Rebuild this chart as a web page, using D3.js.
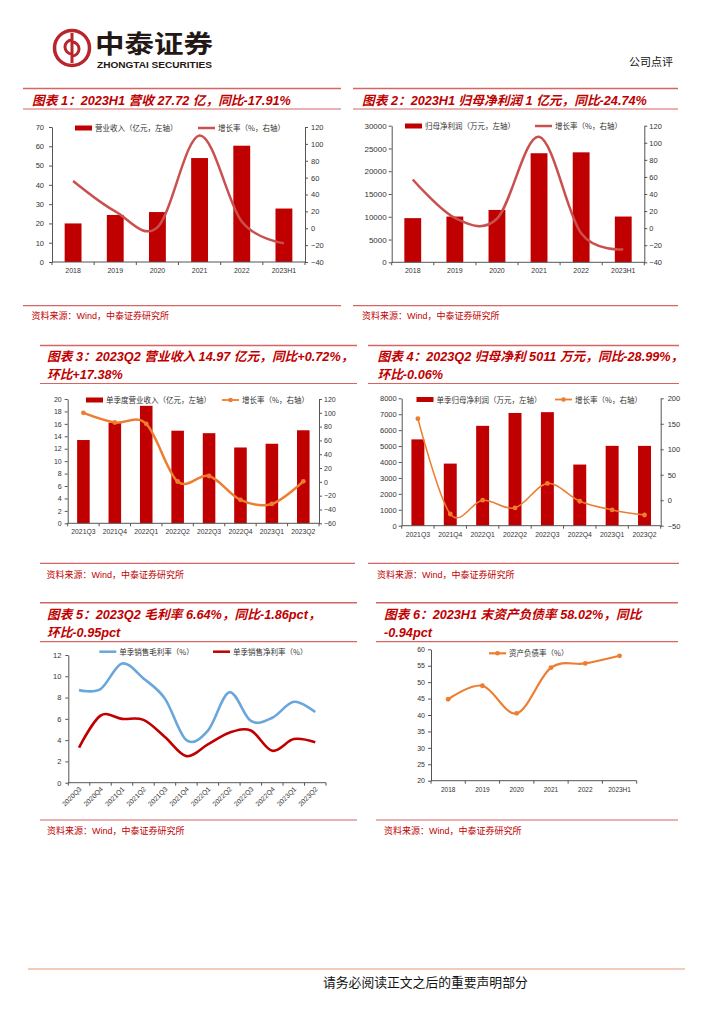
<!DOCTYPE html>
<html><head><meta charset="utf-8">
<script src="https://cdn.jsdelivr.net/npm/d3@7"></script>
<style>body{margin:0;background:#fff}svg{display:block}</style>
</head><body>
<script>
// ---------------- DATA ----------------
const c1Cats = ["2018","2019","2020","2021","2022","2023H1"];
const c1Revenue = [20.0, 24.4, 25.9, 53.9, 60.3, 27.72];
const c1Growth = [56, 20, 1, 110, 8, -17.91];
const c1LeftTicks = [0,10,20,30,40,50,60,70];
const c1RightTicks = [-40,-20,0,20,40,60,80,100,120];
const c1Legend = ["营业收入（亿元，左轴）","增长率（%，右轴）"];

const c2Cats = ["2018","2019","2020","2021","2022","2023H1"];
const c2Profit = [9700, 10050, 11500, 23950, 24150, 10050];
const c2Growth = [57, 12, 11, 107, -6, -24.74];
const c2LeftTicks = [0,5000,10000,15000,20000,25000,30000];
const c2RightTicks = [-40,-20,0,20,40,60,80,100,120];
const c2Legend = ["归母净利润（万元，左轴）","增长率（%，右轴）"];

const c3Cats = ["2021Q3","2021Q4","2022Q1","2022Q2","2022Q3","2022Q4","2023Q1","2023Q2"];
const c3Revenue = [13.4, 16.2, 18.9, 14.9, 14.5, 12.2, 12.8, 14.97];
const c3Growth = [100, 86, 84, 0.5, 8.5, -26, -32, 0.72];
const c3LeftTicks = [0,2,4,6,8,10,12,14,16,18,20];
const c3RightTicks = [-60,-40,-20,0,20,40,60,80,100,120];
const c3Legend = ["单季度营业收入（亿元，左轴）","增长率（%，右轴）"];

const c4Cats = ["2021Q3","2021Q4","2022Q1","2022Q2","2022Q3","2022Q4","2023Q1","2023Q2"];
const c4Profit = [5420, 3900, 6270, 7080, 7130, 3840, 5014, 5011];
const c4Growth = [160, -27, 0, -15, 33, -2, -19, -28.99];
const c4LeftTicks = [0,1000,2000,3000,4000,5000,6000,7000,8000];
const c4RightTicks = [-50,0,50,100,150,200];
const c4Legend = ["单季归母净利润（万元，左轴）","增长率（%，右轴）"];

const c5Cats = ["2020Q3","2020Q4","2021Q1","2021Q2","2021Q3","2021Q4","2022Q1","2022Q2","2022Q3","2022Q4","2023Q1","2023Q2"];
const c5Gross = [8.7, 8.8, 11.2, 9.8, 7.9, 4.0, 4.9, 8.5, 5.8, 6.1, 7.6, 6.64];
const c5Net = [3.3, 6.3, 6.0, 5.9, 4.3, 2.5, 3.6, 4.7, 4.9, 3.0, 4.1, 3.8];
const c5Ticks = [0,2,4,6,8,10,12];
const c5Legend = ["单季销售毛利率（%）","单季销售净利率（%）"];

const c6Cats = ["2018","2019","2020","2021","2022","2023H1"];
const c6Debt = [44.8, 48.9, 40.5, 54.4, 55.7, 58.02];
const c6Ticks = [20,25,30,35,40,45,50,55,60];
const c6Legend = ["资产负债率（%）"];

const titles = [
  ["图表 1：2023H1 营收 27.72 亿，同比-17.91%"],
  ["图表 2：2023H1 归母净利润 1 亿元，同比-24.74%"],
  ["图表 3：2023Q2 营业收入 14.97 亿元，同比+0.72%，","环比+17.38%"],
  ["图表 4：2023Q2 归母净利 5011 万元，同比-28.99%，","环比-0.06%"],
  ["图表 5：2023Q2 毛利率 6.64%，同比-1.86pct，","环比-0.95pct"],
  ["图表 6：2023H1 末资产负债率 58.02%，同比","-0.94pct"]
];
const sourceText = "资料来源：Wind，中泰证券研究所";

// ---------------- SETUP ----------------
const W=724,H=1024;
const svg=d3.select("body").append("svg").attr("width",W).attr("height",H);
svg.append("rect").attr("width",W).attr("height",H).attr("fill","#fff");
const RED="#c00000", LINEC="#c9504d", ORANGE="#ed7d31", BLUE="#6aa6dc", RULE="#d86464";
const FONT="'Liberation Sans','Noto Sans CJK SC',sans-serif";
const CJK="'Noto Sans CJK SC','Liberation Sans',sans-serif";

// ---------------- HEADER ----------------
const logo=svg.append("g");
logo.append("circle").attr("cx",72).attr("cy",48).attr("r",17.5).attr("fill","none").attr("stroke","#b8262b").attr("stroke-width",3.5);
logo.append("path").attr("d","M72,33 L72,63").attr("stroke","#b8262b").attr("stroke-width",3).attr("fill","none");
logo.append("path").attr("d","M72,40 A7,7 0 1,0 72,54").attr("stroke","#b8262b").attr("stroke-width",3).attr("fill","none");
logo.append("path").attr("d","M72,42 A7,7 0 1,1 72,56").attr("stroke","#b8262b").attr("stroke-width",3).attr("fill","none");
svg.append("text").attr("x",95).attr("y",53).attr("font-family",CJK).attr("font-weight","bold").attr("font-size",25).attr("fill","#231815").attr("textLength",118).attr("lengthAdjust","spacingAndGlyphs").text("中泰证券");
svg.append("text").attr("x",97).attr("y",67.5).attr("font-family","'Liberation Sans',sans-serif").attr("font-weight","bold").attr("font-size",8.2).attr("fill","#231815").attr("textLength",115).attr("lengthAdjust","spacingAndGlyphs").text("ZHONGTAI SECURITIES");
svg.append("text").attr("x",629).attr("y",66).attr("font-family",CJK).attr("font-size",11).attr("fill","#111").text("公司点评");

// ---------------- PANELS ----------------
function panel(x0,x1,topY,botY,lines,tx,tys){
  svg.append("line").attr("x1",x0).attr("x2",x1).attr("y1",topY).attr("y2",topY).attr("stroke",RULE).attr("stroke-width",1.6);
  svg.append("line").attr("x1",x0).attr("x2",x1).attr("y1",botY).attr("y2",botY).attr("stroke",RULE).attr("stroke-width",1.2);
  lines.forEach((t,i)=>{
    svg.append("text").attr("x",tx).attr("y",tys[i]).attr("font-family",FONT).attr("font-weight","bold").attr("font-style","italic").attr("font-size",12.7).attr("fill",RED).text(t);
  });
}
function source(x0,x1,ly,tx,ty){
  svg.append("line").attr("x1",x0).attr("x2",x1).attr("y1",ly).attr("y2",ly).attr("stroke",RULE).attr("stroke-width",1.2);
  svg.append("text").attr("x",tx).attr("y",ty).attr("font-family",FONT).attr("font-size",9).attr("fill",RED).text(sourceText);
}
panel(23,341,88.5,109,titles[0],32,[104.5]);
panel(353,678,88.5,109,titles[1],362,[104.5]);
panel(40,357,345.5,383.5,titles[2],47,[361,379]);
panel(368,679,345.5,383.5,titles[3],377.5,[361,379]);
panel(40,357,602.7,641.7,titles[4],47,[618.5,637]);
panel(376,678,602.7,641.7,titles[5],384,[618.5,637]);
source(23,341,305.7,31.5,319);
source(353,678,305.7,362,319);
source(40,355,563.3,46.5,577.5);
source(368,679,563.3,377,577.5);
source(40,357,820,47,833.5);
source(376,678,820,384,833.5);

// ---------------- AXIS HELPERS ----------------
function styleAxis(g,fs){
  g.select(".domain").attr("stroke","#555").attr("stroke-width",1);
  g.selectAll(".tick line").attr("stroke","#555");
  g.selectAll(".tick text").attr("font-family",FONT).attr("font-size",fs).attr("fill","#333");
}
function xAxis(g,x,cats,l,r,b,fs,rotate){
  g.append("line").attr("x1",l).attr("x2",r).attr("y1",b).attr("y2",b).attr("stroke","#555");
  const bounds=cats.map(c=>x(c)).concat([x(cats[cats.length-1])+x.bandwidth()]);
  g.selectAll(null).data(bounds).join("line").attr("x1",d=>d).attr("x2",d=>d).attr("y1",b).attr("y2",b+3).attr("stroke","#555");
  if(rotate){
    g.selectAll(null).data(cats).join("text")
      .attr("transform",d=>`translate(${x(d)+x.bandwidth()/2+3},${b+7}) rotate(-45)`)
      .attr("text-anchor","end").attr("font-family",FONT).attr("font-size",fs).attr("fill","#333").text(d=>d);
  } else {
    g.selectAll(null).data(cats).join("text").attr("x",d=>x(d)+x.bandwidth()/2).attr("y",b+11)
      .attr("text-anchor","middle").attr("font-family",FONT).attr("font-size",fs).attr("fill","#333").text(d=>d);
  }
}
function legendBar(g,x,y,label){
  g.append("rect").attr("x",x).attr("y",y-2.5).attr("width",17).attr("height",5).attr("fill",RED);
  g.append("text").attr("x",x+20).attr("y",y+3).attr("font-family",CJK).attr("font-size",7.5).attr("fill","#333").text(label);
}
function legendLine(g,x,y,label,color,lw,marker){
  g.append("line").attr("x1",x).attr("x2",x+17).attr("y1",y).attr("y2",y).attr("stroke",color).attr("stroke-width",lw);
  if(marker) g.append("circle").attr("cx",x+8.5).attr("cy",y).attr("r",2.3).attr("fill",color);
  g.append("text").attr("x",x+20).attr("y",y+3).attr("font-family",CJK).attr("font-size",7.5).attr("fill","#333").text(label);
}
const fmt=d3.format("d");

// ---------------- DUAL AXIS BAR+LINE ----------------
function dual(cfg){
  const g=svg.append("g");
  const x=d3.scaleBand().domain(cfg.cats).range([cfg.l,cfg.r]);
  const yL=d3.scaleLinear().domain(cfg.lDom).range([cfg.b,cfg.t]);
  const yR=d3.scaleLinear().domain(cfg.rDom).range([cfg.b,cfg.t]);
  const bw=x.bandwidth()*cfg.bw;
  g.selectAll(null).data(cfg.bars).join("rect")
    .attr("x",(d,i)=>x(cfg.cats[i])+(x.bandwidth()-bw)/2).attr("width",bw)
    .attr("y",d=>yL(d)).attr("height",d=>yL(0)-yL(d)).attr("fill",RED);
  g.append("g").attr("transform",`translate(${cfg.l},0)`)
    .call(d3.axisLeft(yL).tickValues(cfg.lTicks).tickFormat(fmt).tickSize(3).tickPadding(cfg.lPad).tickSizeOuter(0))
    .call(a=>styleAxis(a,cfg.lfs));
  g.append("g").attr("transform",`translate(${cfg.r},0)`)
    .call(d3.axisRight(yR).tickValues(cfg.rTicks).tickFormat(fmt).tickSize(3).tickPadding(cfg.rPad).tickSizeOuter(0))
    .call(a=>styleAxis(a,cfg.rfs));
  xAxis(g,x,cfg.cats,cfg.l,cfg.r,cfg.b,cfg.xfs,false);
  const line=d3.line().x((d,i)=>x(cfg.cats[i])+x.bandwidth()/2).y(d=>yR(d)).curve(d3.curveCardinal.tension(0));
  g.append("path").datum(cfg.line).attr("d",line).attr("fill","none").attr("stroke",cfg.lc).attr("stroke-width",cfg.lw);
  if(cfg.markers){
    g.selectAll(null).data(cfg.line).join("circle")
      .attr("cx",(d,i)=>x(cfg.cats[i])+x.bandwidth()/2).attr("cy",d=>yR(d)).attr("r",2.4).attr("fill",cfg.lc);
  }
  legendBar(g,cfg.leg[0],cfg.leg[2],cfg.legend[0]);
  legendLine(g,cfg.leg[1],cfg.leg[2],cfg.legend[1],cfg.lc,cfg.markers?1.8:2.5,cfg.markers);
}

dual({cats:c1Cats,bars:c1Revenue,line:c1Growth,l:52,r:305,t:127,b:262,lDom:[0,70],rDom:[-40,120],
  lTicks:c1LeftTicks,rTicks:c1RightTicks,bw:0.4,lc:LINEC,lw:2.5,markers:false,lPad:5,rPad:3,lfs:7.5,rfs:7.5,xfs:7,
  leg:[75,198,128],legend:c1Legend});
dual({cats:c2Cats,bars:c2Profit,line:c2Growth,l:391.7,r:644.3,t:125.7,b:262.3,lDom:[0,30000],rDom:[-40,120],
  lTicks:c2LeftTicks,rTicks:c2RightTicks,bw:0.4,lc:LINEC,lw:2.5,markers:false,lPad:2,rPad:2,lfs:8,rfs:7.5,xfs:7,
  leg:[405,535,126],legend:c2Legend});
dual({cats:c3Cats,bars:c3Revenue,line:c3Growth,l:67.7,r:319,t:399,b:523.3,lDom:[0,20],rDom:[-60,120],
  lTicks:c3LeftTicks,rTicks:c3RightTicks,bw:0.4,lc:ORANGE,lw:2.5,markers:true,lPad:3,rPad:2,lfs:7,rfs:7,xfs:6.8,
  leg:[86,222,400],legend:c3Legend});
dual({cats:c4Cats,bars:c4Profit,line:c4Growth,l:401.7,r:660.7,t:398.3,b:525.7,lDom:[0,8000],rDom:[-50,200],
  lTicks:c4LeftTicks,rTicks:c4RightTicks,bw:0.4,lc:ORANGE,lw:1.5,markers:true,lPad:2,rPad:4,lfs:7.5,rfs:7.5,xfs:6.8,
  leg:[416.5,555,399.5],legend:c4Legend});

// ---------------- CHART 5 ----------------
(function(){
  const g=svg.append("g");
  const l=68.3,r=326,t=655,b=782.7;
  const x=d3.scaleBand().domain(c5Cats).range([l,r]);
  const y=d3.scaleLinear().domain([0,12]).range([b,t]);
  g.append("g").attr("transform",`translate(${l},0)`)
    .call(d3.axisLeft(y).tickValues(c5Ticks).tickSize(3).tickPadding(4).tickSizeOuter(0))
    .call(a=>styleAxis(a,7.5));
  xAxis(g,x,c5Cats,l,r,b,6.8,true);
  const line=d3.line().x((d,i)=>x(c5Cats[i])+x.bandwidth()/2).y(d=>y(d)).curve(d3.curveCardinal.tension(0));
  g.append("path").datum(c5Gross).attr("d",line).attr("fill","none").attr("stroke",BLUE).attr("stroke-width",2.6);
  g.append("path").datum(c5Net).attr("d",line).attr("fill","none").attr("stroke",RED).attr("stroke-width",2.6);
  legendLine(g,99.3,651.7,c5Legend[0],BLUE,2.5,false);
  legendLine(g,213,651.7,c5Legend[1],RED,2.5,false);
})();

// ---------------- CHART 6 ----------------
(function(){
  const g=svg.append("g");
  const l=431,r=636.7,t=649.3,b=780.7;
  const x=d3.scaleBand().domain(c6Cats).range([l,r]);
  const y=d3.scaleLinear().domain([20,60]).range([b,t]);
  g.append("g").attr("transform",`translate(${l},0)`)
    .call(d3.axisLeft(y).tickValues(c6Ticks).tickSize(3).tickPadding(3).tickSizeOuter(0))
    .call(a=>styleAxis(a,7));
  xAxis(g,x,c6Cats,l,r,b,6.5,false);
  const line=d3.line().x((d,i)=>x(c6Cats[i])+x.bandwidth()/2).y(d=>y(d)).curve(d3.curveCardinal.tension(0));
  g.append("path").datum(c6Debt).attr("d",line).attr("fill","none").attr("stroke",ORANGE).attr("stroke-width",2.2);
  g.selectAll(null).data(c6Debt).join("circle")
    .attr("cx",(d,i)=>x(c6Cats[i])+x.bandwidth()/2).attr("cy",d=>y(d)).attr("r",2.4).attr("fill",ORANGE);
  legendLine(g,489,653.3,c6Legend[0],ORANGE,2.2,true);
})();

// ---------------- FOOTER ----------------
svg.append("line").attr("x1",28).attr("x2",685).attr("y1",969).attr("y2",969).attr("stroke","#efcdb8").attr("stroke-width",2);
svg.append("text").attr("x",323).attr("y",987).attr("font-family",CJK).attr("font-size",12.8).attr("fill","#111").text("请务必阅读正文之后的重要声明部分");
</script>
</body></html>
